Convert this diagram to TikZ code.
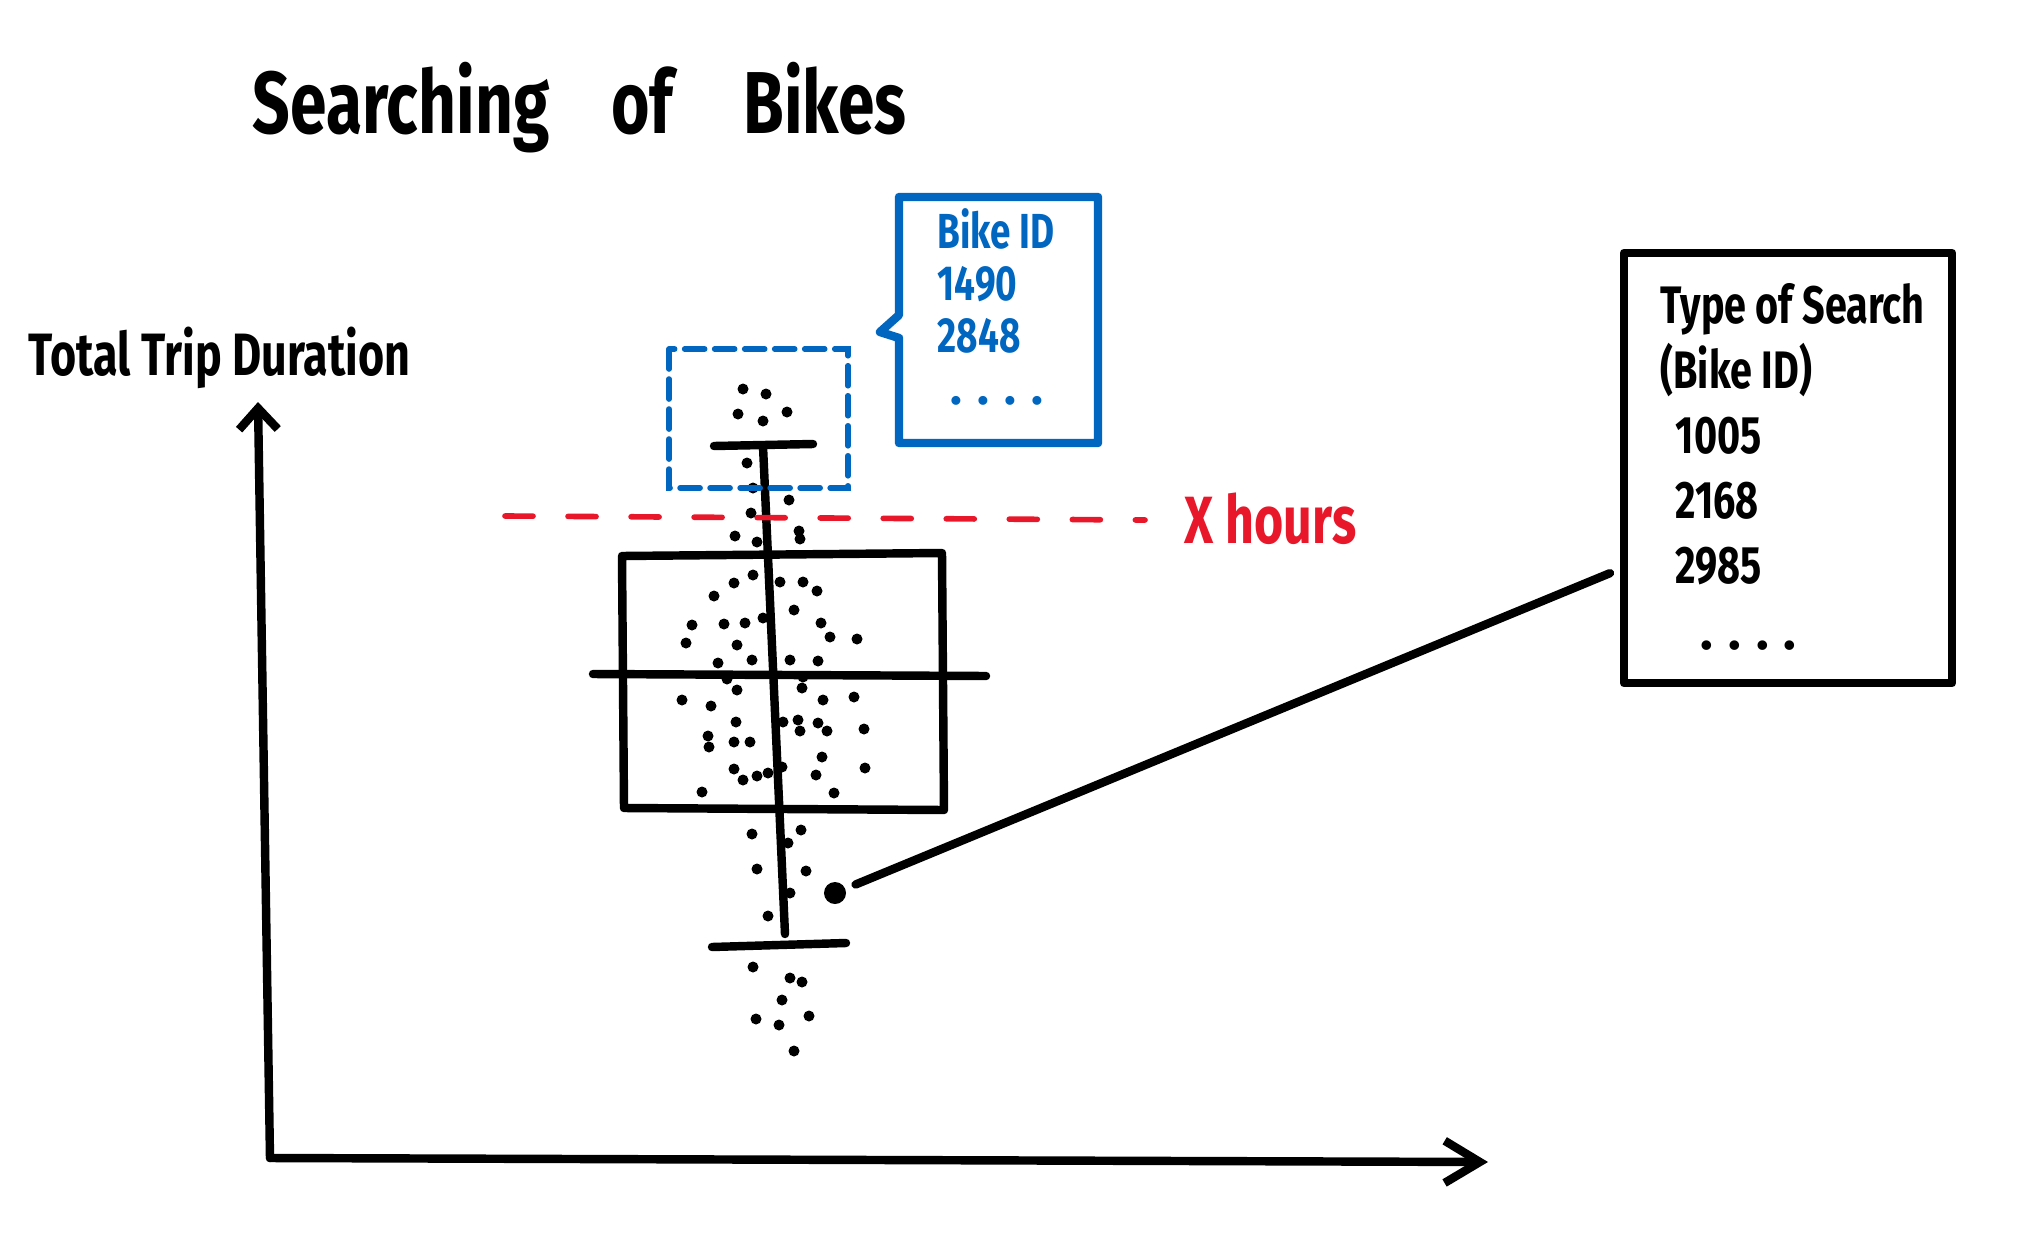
\documentclass[tikz,border=0pt]{standalone}
\usepackage{fontspec}
\usepackage{graphicx}
\setmainfont{Fira Sans}
\usetikzlibrary{arrows.meta,positioning}

\definecolor{sketchblue}{HTML}{0066BF}
\definecolor{sketchred}{HTML}{E8172A}
\newcommand{\squeeze}[1]{\scalebox{0.75}[1]{#1}}
\newcommand{\spreaddots}[1]{.\hspace{#1}.\hspace{#1}.\hspace{#1}.}

\tikzset{
    ink/.style={line width=2.4pt, line cap=round, line join=round},
    handtext/.style={inner sep=0pt, font=\bfseries},
    datadot/.style={circle, fill, inner sep=0pt, minimum size=#1},
    datadot/.default=0.1cm
}

\begin{document}
\begin{tikzpicture}[x=0.01cm, y=-0.01cm]
    \useasboundingbox (0,0) rectangle (2029,1236);

    % titles
    \node[handtext, anchor=base west, font=\bfseries\fontsize{25}{25}\selectfont] (title) at (252,133)
        {\squeeze{Searching}\hspace{0.62cm}\squeeze{of}\hspace{0.7cm}\squeeze{Bikes}};
    \node[handtext, anchor=base west, font=\bfseries\fontsize{17}{17}\selectfont] (ylabel) at (28,375)
        {\squeeze{Total Trip Duration}};

    % axes
    \coordinate (ytop) at (258,402);
    \coordinate (origin) at (270,1158);
    \coordinate (xend) at (1488,1162);
    \draw[ink, {Straight Barb[length=6pt, width=11pt]}-] (ytop) -- (origin);
    \draw[ink, -{Straight Barb[length=10pt, width=12pt]}] (origin) -- (xend);

    % box and whiskers
    \draw[ink] (622,556) -- (942,553) -- (944,810) -- (624,808) -- cycle;
    \draw[ink] (593,674) -- (986,676);
    \draw[ink] (763,446) -- (785,934);
    \draw[ink] (714,446) -- (813,444);
    \draw[ink] (712,947) -- (846,943);

    % trips
    \foreach \p in {(743,389),(766,394),(738,414),(763,421),(787,412),
                    (747,463),(753,488),(789,500),(751,513),(735,536),(757,542),(799,531),(800,539),
                    (734,583),(753,575),(780,582),(803,582),(817,591),(714,596),(794,610),
                    (692,625),(724,624),(745,623),(763,618),(821,623),(830,637),(857,639),
                    (686,643),(737,645),(790,660),(818,661),(752,660),(718,663),
                    (727,679),(803,677),(737,690),(802,688),(682,700),(711,706),(823,700),(854,697),
                    (736,722),(783,722),(798,720),(818,723),(800,731),(827,731),(864,729),
                    (708,736),(709,747),(734,742),(750,742),(822,757),(782,767),(734,769),
                    (865,768),(743,780),(757,776),(768,773),(816,775),(702,792),(834,793),
                    (752,834),(801,830),(788,843),(757,869),(806,871),(790,893),(768,916),
                    (753,967),(790,978),(802,982),(782,1000),(756,1019),(779,1025),(809,1016),(794,1051)}
        \fill \p circle (5.5);

    % threshold
    \draw[sketchred, line width=1.6pt, line cap=round, dash pattern=on 0.28cm off 0.35cm] (505,516) -- (1145,520);
    \node[handtext, anchor=base west, text=sketchred, font=\bfseries\fontsize{19}{19}\selectfont] (xhours) at (1184,543)
        {\squeeze{X hours}};

    % selected outliers
    \draw[sketchblue, line width=1.6pt, line cap=round, dash pattern=on 0.2cm off 0.1cm] (669,349) rectangle (848,488);
    \draw[sketchblue, ink] (899,197) -- (1098,197) -- (1098,443) -- (899,443) -- (899,338) -- (880,332) -- (899,315) -- cycle;
    \node[handtext, anchor=north west, align=left, text=sketchblue, font=\bfseries\fontsize{14}{14.8}\selectfont] (bikeids) at (937,208)
        {\squeeze{Bike ID}\\ \squeeze{1490}\\ \squeeze{2848}\\ \hspace*{0.13cm}\spreaddots{0.15cm}};

    % search result
    \node[ink, draw, minimum width=3.28cm, minimum height=4.3cm] (search) at (1788,468) {};
    \node[handtext, anchor=north west, align=left, font=\bfseries\fontsize{15}{18.5}\selectfont] (searchtext) at (1660,283)
        {\squeeze{Type of Search}\\ \squeeze{(Bike ID)}\\ \hspace*{0.15cm}\squeeze{1005}\\ \hspace*{0.15cm}\squeeze{2168}\\
         \hspace*{0.15cm}\squeeze{2985}\\ \hspace*{0.4cm}\spreaddots{0.15cm}};

    \node[datadot=0.22cm] (outlier) at (835,893) {};
    \draw[ink, shorten <=3pt, shorten >=3pt] (outlier) -- (search.211);
\end{tikzpicture}
\end{document}
